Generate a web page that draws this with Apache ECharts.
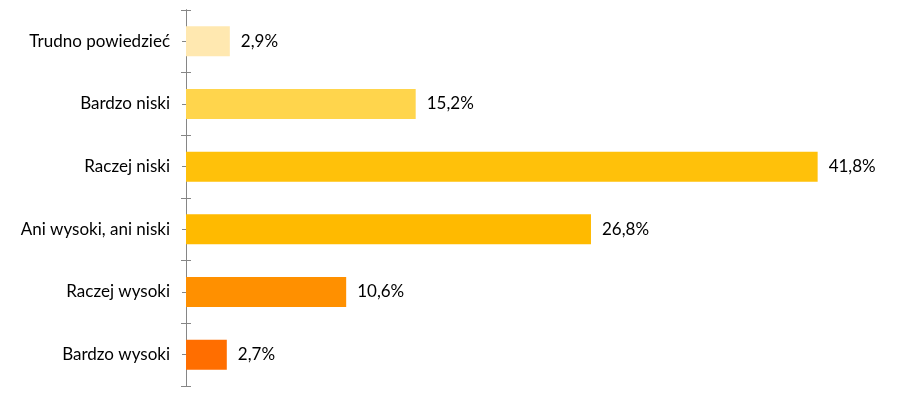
<!DOCTYPE html>
<html><head><meta charset="utf-8">
<script src="https://cdn.jsdelivr.net/npm/echarts@6/dist/echarts.min.js"></script>
<style>html,body{margin:0;padding:0;background:#fff}#c{width:900px;height:394px}</style>
</head><body><div id="c"></div>
<script>
const categories = ['Trudno powiedzieć','Bardzo niski','Raczej niski','Ani wysoki, ani niski','Raczej wysoki','Bardzo wysoki'];
const values = [2.9, 15.2, 41.8, 26.8, 10.6, 2.7];
const colors = ['#FFE8B0','#FFD54C','#FFC10A','#FFBA00','#FF9000','#FF6E00'];

const chart = echarts.init(document.getElementById('c'));
const font = 'Lato, "Open Sans", sans-serif';
const tickColor = '#868686';
const g = {left: 186, right: 34, top: 10, bottom: 8};
chart.setOption({
  animation: false,
  grid: [Object.assign({}, g), Object.assign({}, g)],
  xAxis: [0, 1].map(i => ({type: 'value', min: 0, max: 45, show: false, gridIndex: i})),
  yAxis: [{
    gridIndex: 0,
    type: 'category', data: categories, inverse: true,
    axisLine: {lineStyle: {color: tickColor, width: 1}},
    axisTick: {show: true, length: 5, lineStyle: {color: tickColor}},
    axisLabel: {color: '#000', fontSize: 17, fontFamily: font, margin: 16}
  },{
    gridIndex: 0, position: 'right', offset: -680,
    type: 'category', data: categories, inverse: true,
    axisLine: {show: true, lineStyle: {color: tickColor}},
    axisTick: {show: true, length: 5, lineStyle: {color: tickColor}},
    axisLabel: {show: false}
  },{
    gridIndex: 1,
    type: 'category', data: categories, inverse: true,
    axisLine: {show: true, lineStyle: {color: tickColor}},
    axisTick: {show: true, alignWithLabel: true, length: 4, lineStyle: {color: tickColor}},
    axisLabel: {show: false}
  }],
  series: [{
    type: 'bar', barWidth: 30, xAxisIndex: 0, yAxisIndex: 0,
    data: values.map((v, i) => ({value: v, itemStyle: {color: colors[i]}})),
    label: {show: true, position: 'right', distance: 11, color: '#000', fontSize: 17, fontFamily: font,
      formatter: p => p.value.toFixed(1).replace('.', ',') + '%'}
  }, {
    type: 'bar', xAxisIndex: 0, yAxisIndex: 1, silent: true, barGap: '-100%',
    data: categories.map(() => 0), itemStyle: {opacity: 0}, label: {show: false}
  }, {
    type: 'bar', xAxisIndex: 1, yAxisIndex: 2, silent: true,
    data: categories.map(() => 0), itemStyle: {opacity: 0}, label: {show: false}
  }]
});
</script></body></html>
